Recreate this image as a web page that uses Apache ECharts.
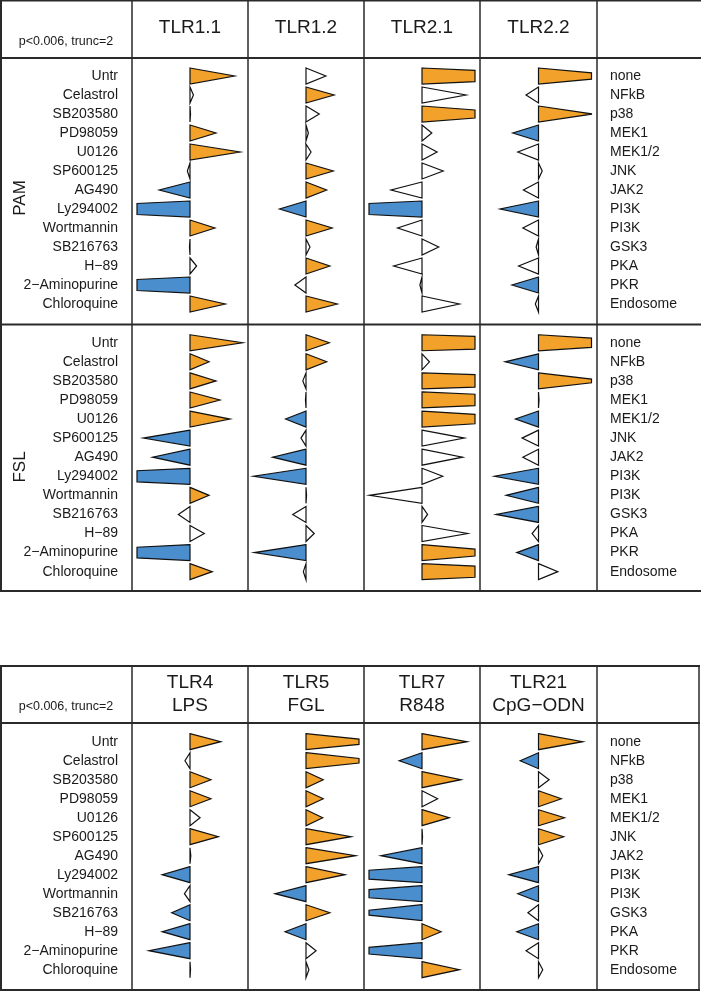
<!DOCTYPE html>
<html>
<head>
<meta charset="utf-8">
<script src="https://cdn.jsdelivr.net/npm/echarts@6/dist/echarts.min.js"></script>
<style>
html,body{margin:0;padding:0;background:#fff;}
#chart{width:701px;height:991px;}
</style>
</head>
<body>
<div id="chart"></div>
<script>
// ---------------- DATA ----------------
const treatments = ['Untr','Celastrol','SB203580','PD98059','U0126','SP600125','AG490','Ly294002','Wortmannin','SB216763','H\u221289','2\u2212Aminopurine','Chloroquine'];
const targets = ['none','NFkB','p38','MEK1','MEK1/2','JNK','JAK2','PI3K','PI3K','GSK3','PKA','PKR','Endosome'];
const topColumns = ['TLR1.1','TLR1.2','TLR2.1','TLR2.2'];
const bottomColumns = ['TLR4\nLPS','TLR5\nFGL','TLR7\nR848','TLR21\nCpG\u2212ODN'];
const sectionNames = ['PAM','FSL'];
const noteText = 'p<0.006, trunc=2';
const truncAt = 2;

// values (log-ratio like), significance flags (1 = p<0.006)
const pamTLR1_1 = [1.68, 0.13, 0.02, 0.98, 1.89, -0.10, -1.16, -6.5, 0.94, -0.02, 0.25, -6.5, 1.33];
const pamTLR1_1Sig = [1,0,0,1,1,0,1,1,1,0,0,1,1];
const pamTLR1_2 = [0.75, 1.06, 0.50, 0.09, 0.19, 1.03, 0.78, -1.00, 0.99, 0.15, 0.90, -0.42, 1.18];
const pamTLR1_2Sig = [0,1,0,0,0,1,1,1,1,0,1,0,1];
const pamTLR2_1 = [7.0, 1.66, 4.0, 0.37, 0.57, 0.80, -1.17, -6.5, -0.92, 0.63, -1.07, -0.08, 1.41];
const pamTLR2_1Sig = [1,0,1,0,0,0,0,1,0,0,0,0,0];
const pamTLR2_2 = [3.3, -0.47, 2.05, -0.97, -0.78, 0.14, -0.57, -1.45, -0.59, -0.09, -0.75, -1.00, -0.12];
const pamTLR2_2Sig = [1,0,1,1,0,0,0,1,0,0,0,1,0];

const fslTLR1_1 = [1.98, 0.72, 0.98, 1.13, 1.51, -1.76, -1.41, -6.5, 0.72, -0.44, 0.54, -6.0, 0.84];
const fslTLR1_1Sig = [1,1,1,1,1,1,1,1,1,0,0,1,1];
const fslTLR1_2 = [0.88, 0.78, -0.12, -0.02, -0.77, -0.19, -1.26, -1.98, 0.02, -0.50, 0.31, -1.95, -0.10];
const fslTLR1_2Sig = [1,1,0,0,1,0,1,1,0,0,0,1,0];
const fslTLR2_1 = [10.0, 0.28, 9.0, 7.0, 4.9, 1.60, 1.53, 0.78, -1.98, 0.21, 1.72, 3.5, 6.7];
const fslTLR2_1Sig = [1,0,1,1,1,0,0,0,0,0,0,1,1];
const fslTLR2_2 = [4.7, -1.26, 2.6, 0.02, -0.87, -0.62, -0.59, -1.66, -1.22, -1.60, -0.24, -0.82, 0.73];
const fslTLR2_2Sig = [1,1,1,0,1,0,0,1,1,1,0,1,0];

const tlr4LPS = [1.16, -0.19, 0.79, 0.79, 0.38, 1.07, 0.03, -1.05, -0.21, -0.69, -1.05, -1.55, 0.02];
const tlr4LPSSig = [1,0,1,1,0,1,0,1,0,1,1,1,0];
const tlr5FGL = [3.0, 2.8, 0.65, 0.65, 0.63, 1.70, 1.87, 1.47, -1.17, 0.90, -0.79, 0.38, 0.11];
const tlr5FGLSig = [1,1,1,1,1,1,1,1,1,1,1,0,0];
const tlr7R848 = [1.70, -0.86, 1.47, 0.59, 1.03, 0.02, -1.55, -4.5, -4.1, -2.9, 0.72, -3.4, 1.41];
const tlr7R848Sig = [1,1,1,0,1,0,1,1,1,1,1,1,1];
const tlr21CpG = [1.67, -0.69, 0.40, 0.86, 0.98, 0.95, 0.16, -1.12, -0.78, -0.40, -0.82, -0.47, 0.16];
const tlr21CpGSig = [1,1,0,1,1,1,0,1,1,0,1,0,0];

// ---------------- LAYOUT ----------------
const FONT = '"Liberation Sans", Arial, Helvetica, sans-serif';
const colEdges = [1, 132, 248, 364, 480, 597];
const pxPerUnit = 26.5;
const ORANGE = '#F2A12A', BLUE = '#4A8ECE', WHITE = '#ffffff';
const HALF_H = 8;

const sections = [
  { top: 66.5, height: 247, cols: [[pamTLR1_1,pamTLR1_1Sig],[pamTLR1_2,pamTLR1_2Sig],[pamTLR2_1,pamTLR2_1Sig],[pamTLR2_2,pamTLR2_2Sig]] },
  { top: 333.2, height: 248, cols: [[fslTLR1_1,fslTLR1_1Sig],[fslTLR1_2,fslTLR1_2Sig],[fslTLR2_1,fslTLR2_1Sig],[fslTLR2_2,fslTLR2_2Sig]] },
  { top: 732.2, height: 247, cols: [[tlr4LPS,tlr4LPSSig],[tlr5FGL,tlr5FGLSig],[tlr7R848,tlr7R848Sig],[tlr21CpG,tlr21CpGSig]] }
];

const grid = [], xAxis = [], yAxis = [], series = [];
sections.forEach((sec, si) => {
  sec.cols.forEach((col, ci) => {
    const gi = grid.length;
    const left = colEdges[ci + 1], right = colEdges[ci + 2];
    const w = right - left;
    const half = w / 2 / pxPerUnit;
    grid.push({ left: left, top: sec.top, width: w, height: sec.height, containLabel: false });
    xAxis.push({ type: 'value', gridIndex: gi, min: -half, max: half, show: false });
    yAxis.push({
      type: 'category', gridIndex: gi, data: treatments, inverse: true,
      axisLine: { show: false }, axisTick: { show: false }, splitLine: { show: false },
      axisLabel: { show: ci === 0, margin: 14, color: '#1a1a1a', fontSize: 14, fontFamily: FONT }
    });
    if (ci === 3) {
      yAxis.push({
        type: 'category', gridIndex: gi, data: targets, inverse: true, position: 'right',
        axisLine: { show: false }, axisTick: { show: false }, splitLine: { show: false },
        axisLabel: { show: true, margin: 13, align: 'left', color: '#1a1a1a', fontSize: 14, fontFamily: FONT }
      });
    }
    const vals = col[0], sig = col[1];
    series.push({
      type: 'custom',
      xAxisIndex: gi,
      yAxisIndex: yAxis.length - (ci === 3 ? 2 : 1),
      encode: { x: 0, y: 1 },
      data: vals.map((v, i) => [v, i, sig[i]]),
      renderItem: function (params, api) {
        const v = api.value(0), row = api.value(1), s = api.value(2);
        const dir = v >= 0 ? 1 : -1;
        const a = Math.abs(v);
        const base = api.coord([0, row]);
        const tip = api.coord([dir * Math.min(a, truncAt), row]);
        const x = base[0], y = base[1];
        let pts;
        if (a <= truncAt) {
          pts = [[x, y - HALF_H], [tip[0], y], [x, y + HALF_H]];
        } else {
          const e = HALF_H * (1 - truncAt / a);
          pts = [[x, y - HALF_H], [tip[0], y - e], [tip[0], y + e], [x, y + HALF_H]];
        }
        const fill = s ? (v >= 0 ? ORANGE : BLUE) : WHITE;
        return { type: 'polygon', shape: { points: pts }, style: { fill: fill, stroke: '#111', lineWidth: 1.2 } };
      }
    });
  });
});

// ---------------- TABLE GRAPHICS ----------------
const graphic = [];
function hline(x1, x2, y, lw) { graphic.push({ type: 'line', silent: true, shape: { x1: x1, y1: y, x2: x2, y2: y }, style: { stroke: '#2a2a2a', lineWidth: lw } }); }
function vline(x, y1, y2, lw) { graphic.push({ type: 'line', silent: true, shape: { x1: x, y1: y1, x2: x, y2: y2 }, style: { stroke: '#2a2a2a', lineWidth: lw } }); }
function text(t, x, y, size, extra) {
  graphic.push(Object.assign({ type: 'text', silent: true, x: x, y: y,
    style: { text: t, fill: '#1a1a1a', fontSize: size, fontFamily: FONT, align: 'center', verticalAlign: 'middle', lineHeight: 23 } }, extra || {}));
}

// top table
hline(0, 701, 0.5, 2);
hline(0, 701, 58, 2);
hline(0, 701, 324.5, 2);
hline(0, 701, 591, 2);
vline(1, 0, 591, 2);
colEdges.slice(1).forEach(x => vline(x, 0, 591, 1.5));
// bottom table
hline(0, 700, 666, 2);
hline(0, 700, 723, 2);
hline(0, 700, 990, 2);
vline(1, 666, 991, 2);
colEdges.slice(1).forEach(x => vline(x, 666, 991, 1.5));
vline(699, 666, 991, 1.5);

// headers
topColumns.forEach((t, i) => text(t, (colEdges[i + 1] + colEdges[i + 2]) / 2, 28, 19));
bottomColumns.forEach((t, i) => text(t, (colEdges[i + 1] + colEdges[i + 2]) / 2, 694, 19));
text(noteText, 66, 42, 12.5);
text(noteText, 66, 707, 12.5);
text(sectionNames[0], 20, 198, 17, { rotation: Math.PI / 2 });
text(sectionNames[1], 20, 467, 17, { rotation: Math.PI / 2 });

const chart = echarts.init(document.getElementById('chart'), null, { renderer: 'canvas' });
chart.setOption({
  animation: false,
  backgroundColor: '#ffffff',
  grid: grid, xAxis: xAxis, yAxis: yAxis, series: series, graphic: graphic
});
</script>
</body>
</html>
